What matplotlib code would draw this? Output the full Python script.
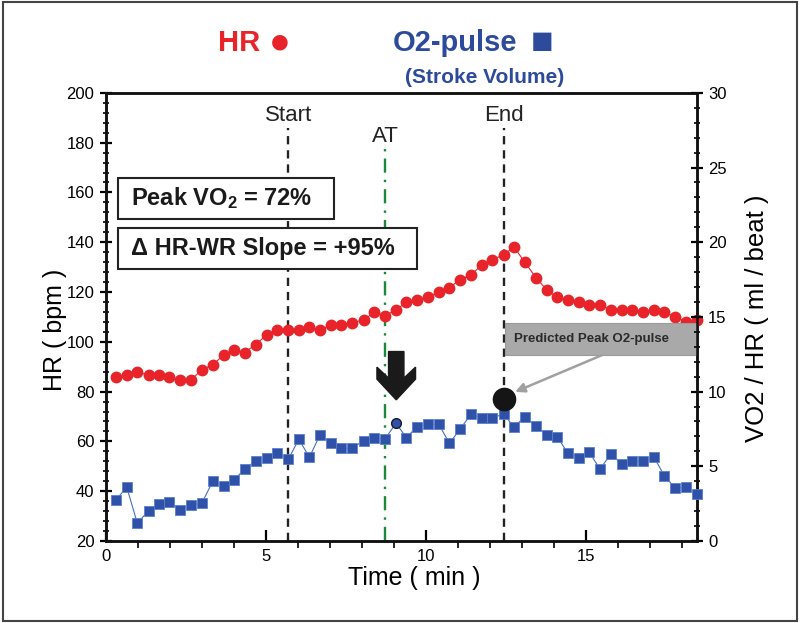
import matplotlib
matplotlib.use("Agg")
import matplotlib.pyplot as plt
import matplotlib.transforms as mtransforms
from matplotlib.patches import Rectangle, Polygon
from matplotlib.ticker import MultipleLocator

plt.rcParams['font.family'] = ['Liberation Sans', 'DejaVu Sans']
plt.rcParams['mathtext.fontset'] = 'custom'
plt.rcParams['mathtext.bf'] = 'Liberation Sans:bold'
plt.rcParams['mathtext.rm'] = 'Liberation Sans:bold'
plt.rcParams['mathtext.default'] = 'bf'

# ---------------- data ----------------
time_min = [0.32, 0.66, 0.99, 1.34, 1.67, 1.99, 2.33, 2.66, 3.00, 3.35,
            3.68, 4.01, 4.34, 4.68, 5.03, 5.36, 5.70, 6.03, 6.36, 6.69,
            7.03, 7.36, 7.70, 8.05, 8.39, 8.72, 9.06, 9.39, 9.72, 10.06,
            10.40, 10.73, 11.06, 11.41, 11.74, 12.07, 12.42, 12.75, 13.08, 13.43,
            13.77, 14.09, 14.43, 14.76, 15.09, 15.43, 15.77, 16.11, 16.44, 16.78,
            17.11, 17.44, 17.78, 18.12, 18.45]
hr_bpm = [85.8, 86.7, 87.8, 86.7, 86.7, 85.8, 84.7, 84.7, 88.7, 90.8,
          94.7, 96.7, 95.7, 98.9, 102.8, 104.8, 104.8, 104.8, 105.9, 104.8,
          106.7, 106.7, 107.7, 108.8, 111.9, 110.5, 112.8, 115.9, 116.8, 117.8,
          119.9, 121.8, 124.9, 126.9, 130.9, 132.9, 135.0, 138.0, 132.0, 125.8,
          120.8, 117.9, 116.8, 115.9, 114.8, 114.8, 112.8, 112.8, 112.8, 111.9,
          112.8, 111.9, 109.9, 108.1, 108.8]
o2_pulse = [2.75, 3.60, 1.19, 2.03, 2.48, 2.59, 2.08, 2.41, 2.52, 4.02,
            3.68, 4.09, 4.82, 5.36, 5.58, 5.91, 5.47, 6.81, 5.61, 7.10,
            6.58, 6.21, 6.21, 6.72, 6.92, 6.83, 7.88, 6.92, 7.66, 7.81,
            7.81, 6.54, 7.48, 8.51, 8.22, 8.22, 8.51, 7.62, 8.33, 7.70,
            7.10, 6.99, 5.87, 5.58, 5.94, 4.82, 5.83, 5.14, 5.36, 5.36,
            5.61, 4.37, 3.53, 3.60, 3.15]
at_index = 26                 # highlighted O2-pulse point (circle)
event_names = ["Start", "AT", "End"]
event_times = [5.70, 8.72, 12.42]
predicted_peak_time = 12.42
predicted_peak_o2 = 9.5
box_texts = ["Peak VO$_2$ = 72%", "\u0394 HR-WR Slope = +95%"]
x_ticks = [0, 5, 10, 15]
hr_ticks = [20, 40, 60, 80, 100, 120, 140, 160, 180, 200]
o2_ticks = [0, 5, 10, 15, 20, 25, 30]

RED = "#e8232a"
BLUE = "#2f52a8"
BLUE_TXT = "#2d4b9a"

# ---------------- figure ----------------
fig = plt.figure(figsize=(8.0, 6.23), dpi=100)
fig.patches.append(Rectangle((0.004, 0.004), 0.992, 0.992, transform=fig.transFigure,
                             fill=False, edgecolor="#444444", linewidth=1.5))
ax = fig.add_axes([0.132, 0.1316, 0.739, 0.7194])
ax2 = ax.twinx()

ax.set_xlim(0, 18.45)
ax.set_ylim(20, 200)
ax2.set_ylim(0, 30)

# HR series
ax.plot(time_min, hr_bpm, color=RED, linewidth=0.8, marker='o', markersize=7.5,
        markeredgecolor=RED, markerfacecolor=RED, zorder=3, clip_on=False)

# O2 pulse series
ax2.plot(time_min, o2_pulse, color="#4a6cc0", linewidth=0.8, zorder=3, clip_on=False)
sq_t = [t for i, t in enumerate(time_min) if i != at_index]
sq_v = [v for i, v in enumerate(o2_pulse) if i != at_index]
ax2.plot(sq_t, sq_v, linestyle='none', marker='s', markersize=7,
         markerfacecolor=BLUE, markeredgecolor="#5b7fd0", markeredgewidth=0.6,
         zorder=4, clip_on=False)
ax2.plot([time_min[at_index]], [o2_pulse[at_index]], linestyle='none', marker='o',
         markersize=7, markerfacecolor=BLUE, markeredgecolor="#1a1a2a",
         markeredgewidth=1.0, zorder=4)

# predicted peak
ax2.plot([predicted_peak_time], [predicted_peak_o2], marker='o', markersize=16,
         color="#151515", zorder=6, linestyle='none')

# event lines
event_styles = [dict(color="#222222", linestyle=(0, (3.5, 2.5))),
                dict(color="#1a8a3a", linestyle=(0, (6, 3, 1, 3))),
                dict(color="#222222", linestyle=(0, (3.5, 2.5)))]
line_tops = [186, 178, 186]
label_y = [191, 182.5, 191]
for name, t, st, top, ly in zip(event_names, event_times, event_styles, line_tops, label_y):
    ax.vlines(t, 20, top, linewidth=1.7, zorder=2, **st)
    ax.text(t, ly, name, ha='center', va='center', fontsize=16, color="#222222")

# info boxes (white, above lines)
ax.add_patch(Rectangle((0.39, 149.4), 6.74, 16.4, facecolor='white',
                       edgecolor='#222222', linewidth=1.5, zorder=5))
ax.text(0.79, 157.6, box_texts[0], fontsize=17, fontweight='bold',
        ha='left', va='center', color="#1a1a1a", zorder=6)
ax.add_patch(Rectangle((0.39, 129.3), 9.33, 16.5, facecolor='white',
                       edgecolor='#222222', linewidth=1.5, zorder=5))
ax.text(0.79, 137.5, box_texts[1], fontsize=17, fontweight='bold',
        ha='left', va='center', color="#1a1a1a", zorder=6)

# predicted peak label box
ax.add_patch(Rectangle((12.45, 94.7), 6.0, 12.9, facecolor='#a9a9a9',
                       edgecolor='#9a9a9a', linewidth=0.8, zorder=5, clip_on=False))
ax.text(12.75, 101.2, "Predicted Peak O2-pulse", fontsize=9.5, fontweight='bold',
        ha='left', va='center', color="#2a2a2a", zorder=6)
ax.annotate("", xy=(12.78, 79.9), xytext=(15.5, 94.7),
            arrowprops=dict(arrowstyle='-|>', color='#a0a0a0', linewidth=1.8,
                            mutation_scale=14, shrinkA=0, shrinkB=0), zorder=6)

# big down arrow (chevron style), vertices in pixels relative to tip
tip_t, tip_hr = 9.07, 76.7
verts_px = [(0, 0), (19.3, 20.7), (19.3, 32.7), (7.7, 21.7), (7.7, 48.3),
            (-7.7, 48.3), (-7.7, 21.7), (-19.3, 32.7), (-19.3, 20.7)]
verts_in = [(x / 100.0, y / 100.0) for x, y in verts_px]
arr_tr = fig.dpi_scale_trans + mtransforms.ScaledTranslation(tip_t, tip_hr, ax.transData)
ax.add_patch(Polygon(verts_in, closed=True, transform=arr_tr, facecolor="#1a1a1a",
                     edgecolor="#1a1a1a", zorder=7))

# axes styling
for a in (ax, ax2):
    for s in a.spines.values():
        s.set_linewidth(1.8)
        s.set_color("#111111")

ax.set_xticks(x_ticks)
ax.xaxis.set_minor_locator(MultipleLocator(1))
ax.set_yticks(hr_ticks)
ax.yaxis.set_minor_locator(MultipleLocator(4))
ax2.set_yticks(o2_ticks)
ax2.yaxis.set_minor_locator(MultipleLocator(1))

ax.tick_params(axis='x', which='major', direction='in', length=8, width=1.6, labelsize=12, pad=6)
ax.tick_params(axis='x', which='minor', direction='out', length=5, width=1.2)
ax.tick_params(axis='y', which='major', direction='inout', length=9, width=1.6, labelsize=12)
ax.tick_params(axis='y', which='minor', direction='inout', length=5, width=1.2)
ax2.tick_params(axis='y', which='major', direction='inout', length=9, width=1.6, labelsize=12)
ax2.tick_params(axis='y', which='minor', direction='inout', length=5, width=1.2)

# axis titles
fig.text(348 / 800, 1 - 578 / 623, "Time ( min )", fontsize=18, ha='left', va='center')
fig.text(55 / 800, 1 - 330 / 623, "HR ( bpm )", fontsize=18, rotation=90,
         ha='center', va='center')
fig.text(757 / 800, 1 - 318 / 623, "VO2 / HR ( ml / beat )", fontsize=18.5, rotation=90,
         ha='center', va='center')

# header legend texts
fig.text(0.2725, 0.931, "HR", fontsize=21, fontweight='bold', color=RED, ha='left', va='center')
fig.text(0.35, 0.931, "\u25CF", fontsize=26, color=RED, ha='center', va='center')
fig.text(0.491, 0.931, "O2-pulse", fontsize=21, fontweight='bold', color=BLUE_TXT, ha='left', va='center')
fig.text(0.678, 0.931, "\u25A0", fontsize=27, color=BLUE_TXT, ha='center', va='center')
fig.text(0.506, 0.875, "(Stroke Volume)", fontsize=15, fontweight='bold', color=BLUE_TXT, ha='left', va='center')

fig.savefig("out.png", dpi=100)
